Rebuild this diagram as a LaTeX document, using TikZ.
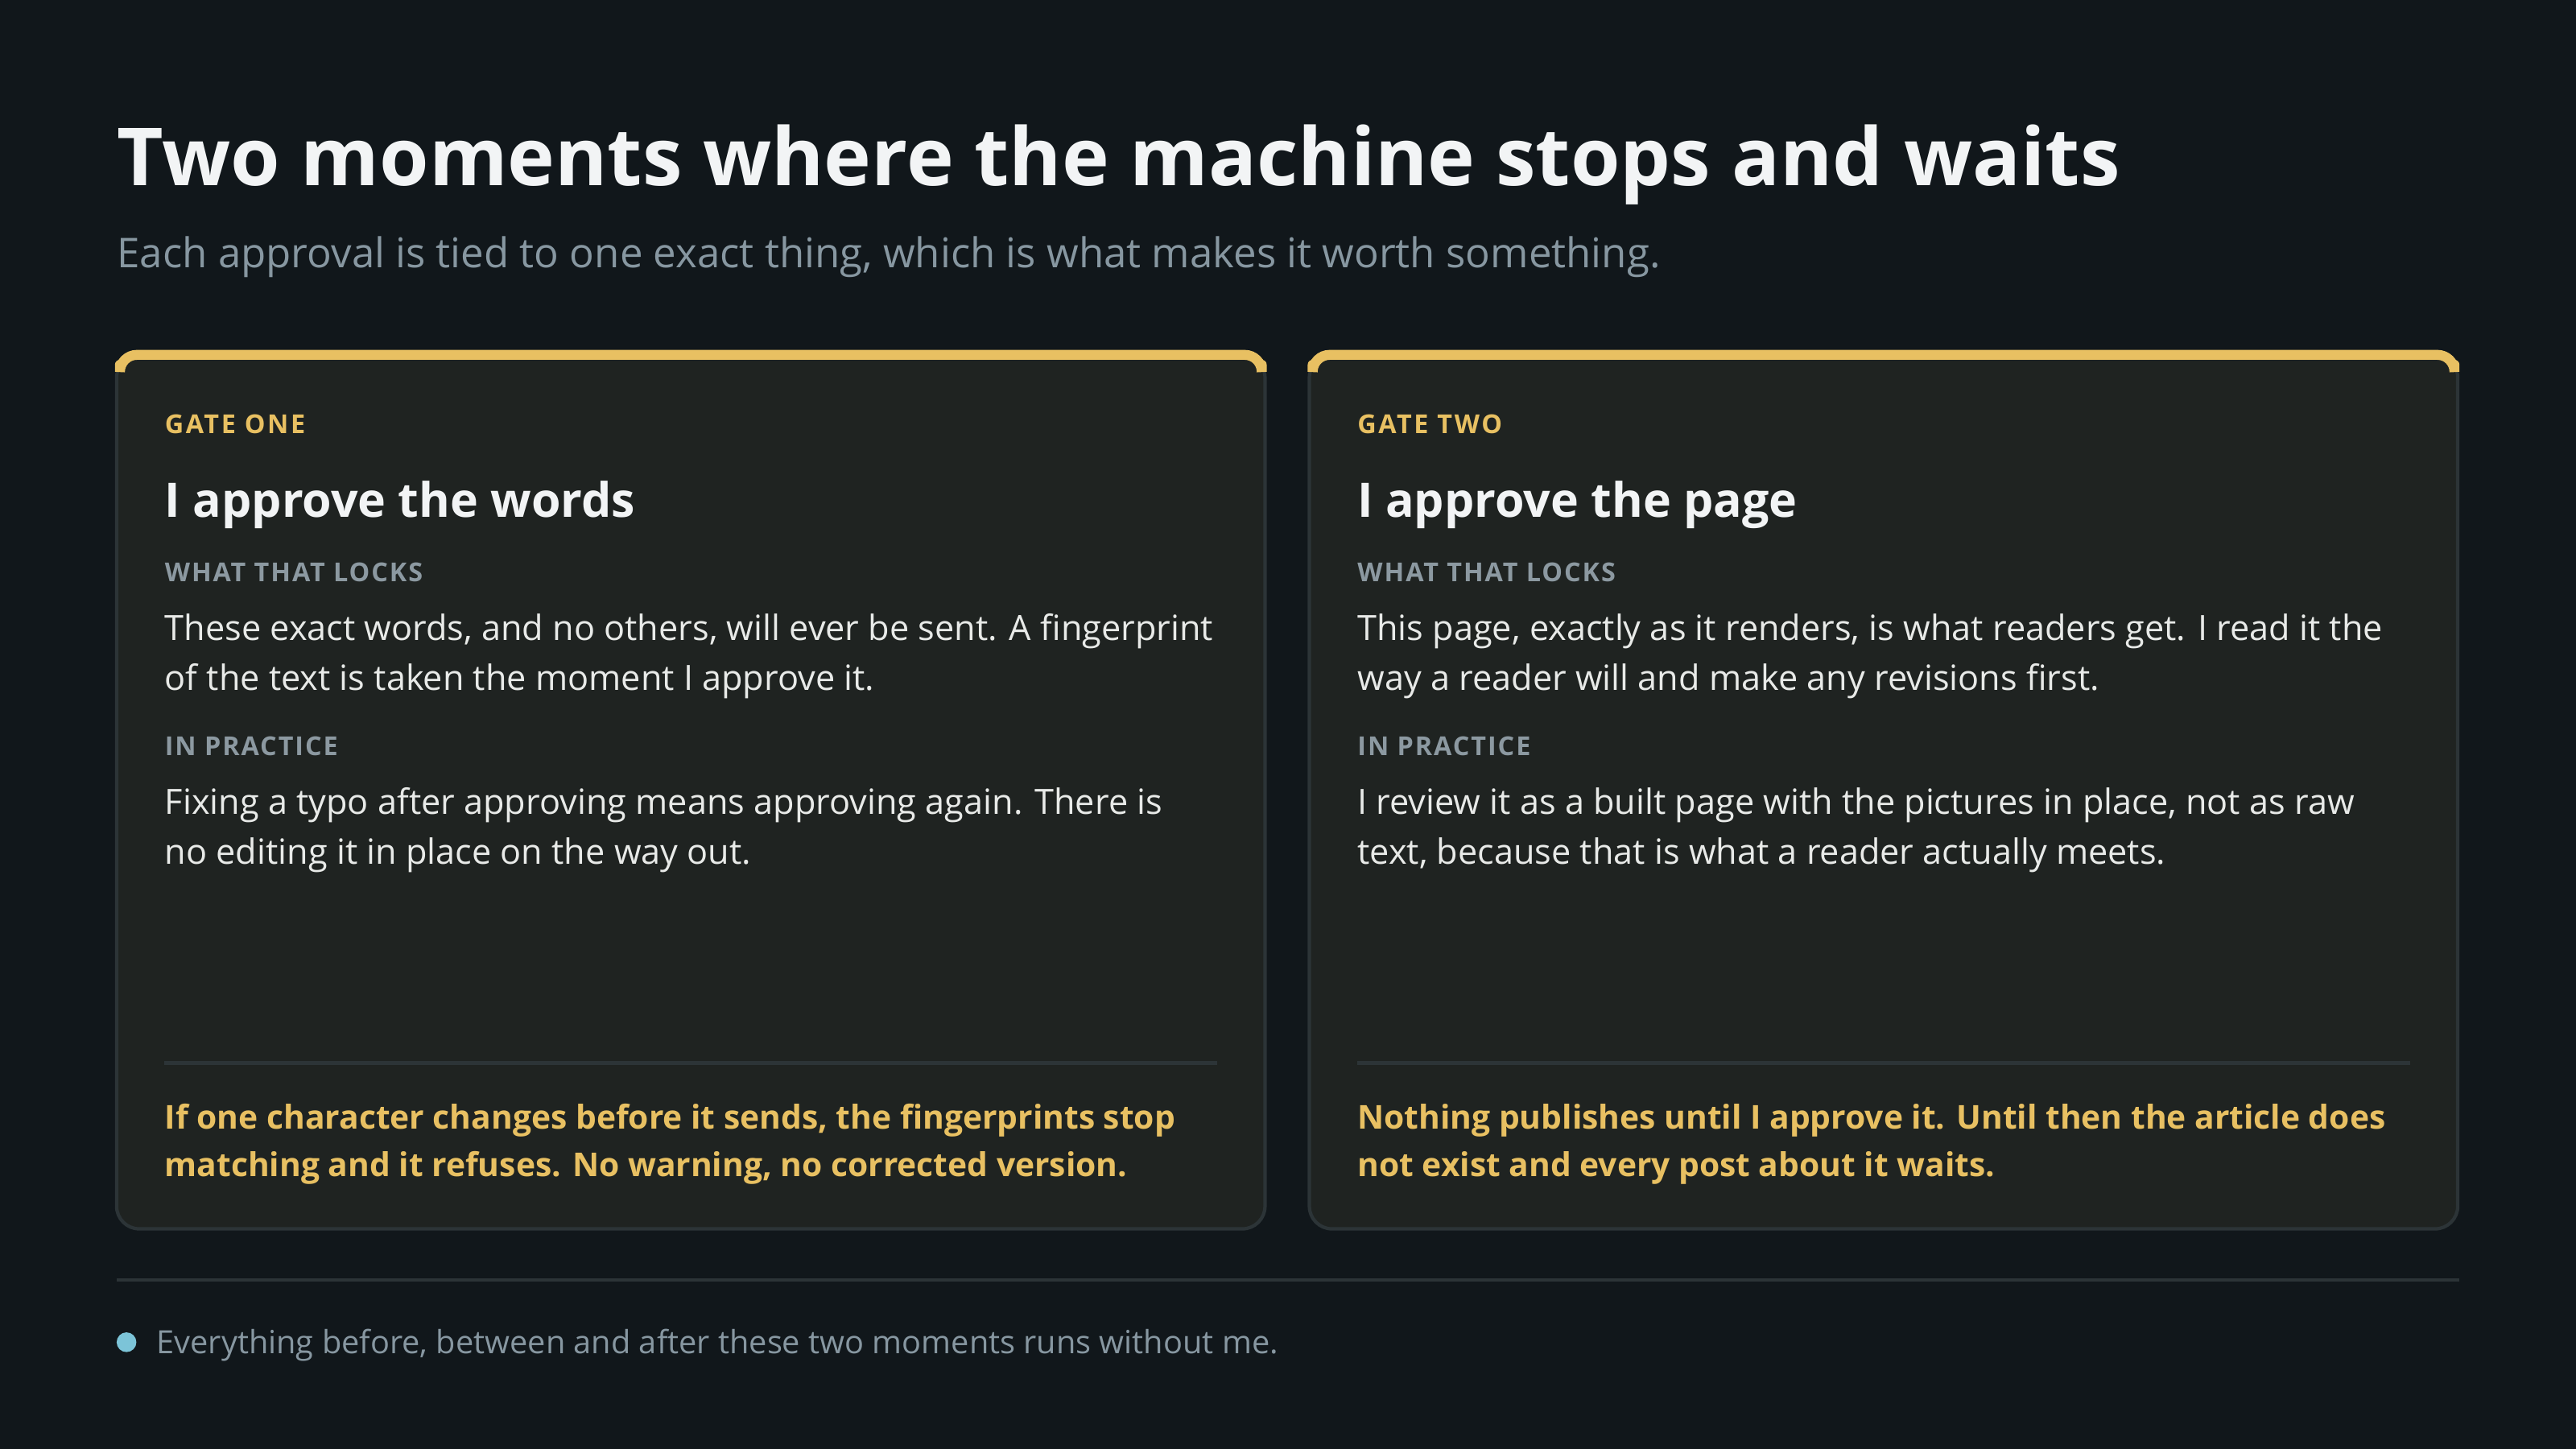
\documentclass[tikz,border=0pt]{standalone}
\usepackage{fontspec}
\setmainfont{Open Sans}
\usetikzlibrary{positioning}
\definecolor{bgc}{HTML}{11171B}
\definecolor{cardc}{HTML}{1F2321}
\definecolor{edgec}{HTML}{2C3437}
\definecolor{goldc}{HTML}{E8C062}
\definecolor{titlec}{HTML}{F2F4F5}
\definecolor{subc}{HTML}{8797A1}
\definecolor{labc}{HTML}{8C99A1}
\definecolor{bodyc}{HTML}{E8EAE8}
\definecolor{dotc}{HTML}{7CC4D8}
\tikzset{
  txt/.style={inner sep=0pt,anchor=base west,align=left},
  card/.style={fill=cardc,draw=edgec,line width=1.2pt,rounded corners=8pt},
  gate/.style={txt,text=goldc,font=\fontsize{9.2}{11}\selectfont\bfseries\addfontfeatures{LetterSpace=8}},
  head/.style={txt,text=titlec,font=\fontsize{16.8}{20}\selectfont\bfseries},
  lab/.style={txt,text=labc,font=\fontsize{9.2}{11}\selectfont\bfseries\addfontfeatures{LetterSpace=6}},
  body/.style={txt,text=bodyc,font=\fontsize{12.3}{17.5}\selectfont},
  note/.style={txt,text=goldc,font=\fontsize{11.6}{16.6}\selectfont\bfseries},
}
\begin{document}
\begin{tikzpicture}[x=0.020408cm,y=-0.020408cm]
  \fill[bgc] (0,0) rectangle (1568,882);
  \useasboundingbox (0,0) rectangle (1568,882);
  \node[txt,text=titlec,font=\fontsize{28.3}{34}\selectfont\bfseries] (title) at (71,113) {Two moments where the machine stops and waits};
  \node[txt,text=subc,font=\fontsize{14.5}{18}\selectfont] (sub) at (71,163) {Each approval is tied to one exact thing, which is what makes it worth something.};
  % left card
  \draw[card] (71,216) rectangle (770,748);
  \draw[goldc,line width=3.5pt,line cap=round,rounded corners=6pt] (73,222) -- (73,216) -- (768,216) -- (768,222);
  \node[gate] (g1) at (100,264) {GATE ONE};
  \node[head] (h1) at (100,315) {I approve the words};
  \node[lab] (l1a) at (100,354) {WHAT THAT LOCKS};
  \node[body] (b1a) at (100,420) {These exact words, and no others, will ever be sent. A fingerprint\\of the text is taken the moment I approve it.};
  \node[lab] (l1b) at (100,460) {IN PRACTICE};
  \node[body] (b1b) at (100,526) {Fixing a typo after approving means approving again. There is\\no editing it in place on the way out.};
  \draw[edgec,line width=1.2pt] (100,647) -- (741,647);
  \node[note] (n1) at (100,716) {If one character changes before it sends, the fingerprints stop\\matching and it refuses. No warning, no corrected version.};
  % right card
  \draw[card] (797,216) rectangle (1496,748);
  \draw[goldc,line width=3.5pt,line cap=round,rounded corners=6pt] (799,222) -- (799,216) -- (1494,216) -- (1494,222);
  \node[gate] (g2) at (826,264) {GATE TWO};
  \node[head] (h2) at (826,315) {I approve the page};
  \node[lab] (l2a) at (826,354) {WHAT THAT LOCKS};
  \node[body] (b2a) at (826,420) {This page, exactly as it renders, is what readers get. I read it the\\way a reader will and make any revisions first.};
  \node[lab] (l2b) at (826,460) {IN PRACTICE};
  \node[body] (b2b) at (826,526) {I review it as a built page with the pictures in place, not as raw\\text, because that is what a reader actually meets.};
  \draw[edgec,line width=1.2pt] (826,647) -- (1467,647);
  \node[note] (n2) at (826,716) {Nothing publishes until I approve it. Until then the article does\\not exist and every post about it waits.};
  % footer
  \draw[edgec,line width=1.2pt] (71,779) -- (1497,779);
  \fill[dotc] (77,817) circle (6);
  \node[txt,text=subc,font=\fontsize{11.3}{14}\selectfont] (foot) at (95,824) {Everything before, between and after these two moments runs without me.};
\end{tikzpicture}
\end{document}
